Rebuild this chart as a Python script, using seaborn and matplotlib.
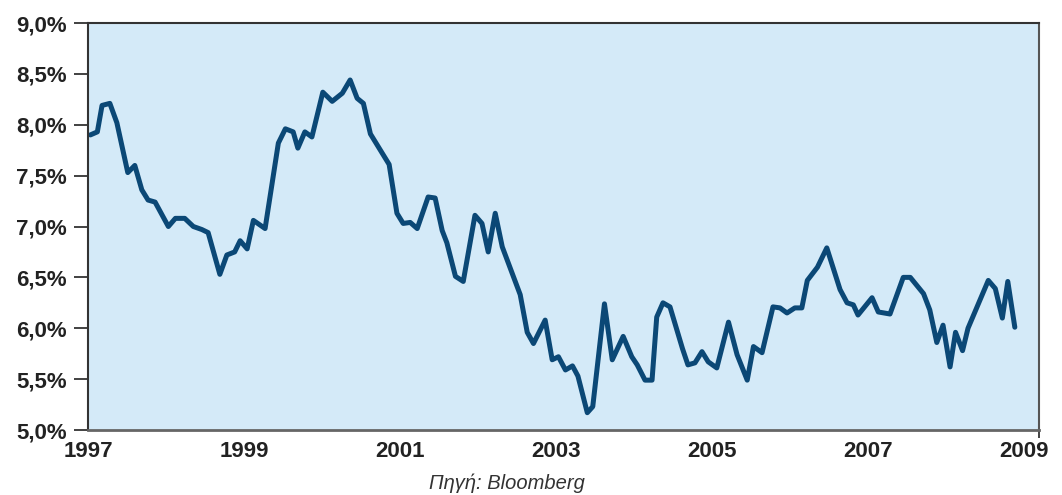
import matplotlib
matplotlib.use("Agg")
import matplotlib.pyplot as plt
import matplotlib.ticker as mticker
import numpy as np
import pandas as pd
import seaborn as sns

# Yield series (decimal year, percent)
dates = [
    1997.03, 1997.12, 1997.18, 1997.28, 1997.37, 1997.51, 1997.60, 1997.69, 1997.77, 1997.86,
    1998.03, 1998.12, 1998.24, 1998.35, 1998.46, 1998.54, 1998.69, 1998.78, 1998.88, 1998.95,
    1999.04, 1999.12, 1999.27, 1999.44, 1999.53, 1999.63, 1999.69, 1999.78, 1999.87,
    2000.01, 2000.13, 2000.26, 2000.36, 2000.45, 2000.53, 2000.62, 2000.86, 2000.96,
    2001.04, 2001.13, 2001.22, 2001.36, 2001.45, 2001.54, 2001.60, 2001.71, 2001.81, 2001.96,
    2002.05, 2002.13, 2002.22, 2002.31, 2002.54, 2002.63, 2002.71, 2002.86, 2002.95,
    2003.03, 2003.12, 2003.21, 2003.28, 2003.40, 2003.47, 2003.62, 2003.72, 2003.86, 2003.97,
    2004.04, 2004.14, 2004.23, 2004.29, 2004.37, 2004.46, 2004.62, 2004.69, 2004.78, 2004.87, 2004.95,
    2005.06, 2005.21, 2005.32, 2005.45, 2005.53, 2005.64, 2005.78, 2005.87, 2005.96,
    2006.06, 2006.15, 2006.22, 2006.35, 2006.47, 2006.64, 2006.73, 2006.81, 2006.87,
    2007.05, 2007.13, 2007.28, 2007.45, 2007.54, 2007.71, 2007.79, 2007.88, 2007.96,
    2008.05, 2008.12, 2008.21, 2008.28, 2008.54, 2008.63, 2008.72, 2008.79, 2008.88,
]
yields = [
    7.90, 7.93, 8.19, 8.21, 8.02, 7.53, 7.60, 7.36, 7.26, 7.24,
    7.00, 7.08, 7.08, 7.00, 6.97, 6.94, 6.53, 6.72, 6.75, 6.86,
    6.78, 7.06, 6.98, 7.82, 7.96, 7.93, 7.77, 7.93, 7.88,
    8.32, 8.23, 8.31, 8.44, 8.26, 8.21, 7.91, 7.61, 7.13,
    7.03, 7.04, 6.98, 7.29, 7.28, 6.96, 6.84, 6.51, 6.46, 7.11,
    7.03, 6.75, 7.13, 6.80, 6.33, 5.96, 5.85, 6.08, 5.69,
    5.72, 5.59, 5.63, 5.53, 5.17, 5.23, 6.24, 5.69, 5.92, 5.72,
    5.64, 5.49, 5.49, 6.11, 6.25, 6.21, 5.80, 5.64, 5.66, 5.77, 5.67,
    5.61, 6.06, 5.74, 5.49, 5.82, 5.76, 6.21, 6.20, 6.15,
    6.20, 6.20, 6.47, 6.60, 6.79, 6.38, 6.25, 6.23, 6.13,
    6.30, 6.16, 6.14, 6.50, 6.50, 6.34, 6.18, 5.86, 6.03,
    5.62, 5.96, 5.78, 6.00, 6.47, 6.39, 6.10, 6.46, 6.01,
]
year_ticks = [1997, 1999, 2001, 2003, 2005, 2007, 2009]
pct_ticks = [5.0, 5.5, 6.0, 6.5, 7.0, 7.5, 8.0, 8.5, 9.0]
source_note = "Πηγή: Bloomberg"

df = pd.DataFrame({"date": dates, "yield": yields})

sns.set_theme(style="white")
plt.rcParams["font.family"] = ["Liberation Sans", "DejaVu Sans"]

fig = plt.figure(figsize=(10.62, 4.95), dpi=100)
ax = fig.add_axes([88 / 1062, 1 - 430 / 495, (1039 - 88) / 1062, (430 - 23) / 495])
ax.set_facecolor("#d4eaf8")

sns.lineplot(data=df, x="date", y="yield", ax=ax, color="#0b4876",
             linewidth=3.6, sort=False, solid_joinstyle="round")

ax.set_xlim(1997, 2009.19)
ax.set_ylim(5.0, 9.0)
ax.set_xticks(year_ticks)
ax.set_xticklabels([str(y) for y in year_ticks])
ax.set_xticks([1997, 2009.19], minor=True)
ax.set_yticks(pct_ticks)
ax.yaxis.set_major_formatter(
    mticker.FuncFormatter(lambda v, _: f"{v:.1f}%".replace(".", ",")))
ax.set_xlabel("")
ax.set_ylabel("")

for lbl in ax.get_xticklabels() + ax.get_yticklabels():
    lbl.set_fontweight("bold")
    lbl.set_fontsize(16)
    lbl.set_color("#222222")

ax.tick_params(axis="y", which="major", left=True, length=10, width=1.3,
               color="#333333", pad=5)
ax.tick_params(axis="x", which="major", bottom=True, length=0, pad=8)
ax.tick_params(axis="x", which="minor", bottom=True, length=6, width=1.3,
               color="#333333")

for side in ["left", "top"]:
    ax.spines[side].set_color("#333333")
    ax.spines[side].set_linewidth(1.5)
ax.spines["bottom"].set_color("#666666")
ax.spines["bottom"].set_linewidth(2.0)
ax.spines["right"].set_color("#555555")
ax.spines["right"].set_linewidth(1.5)

fig.text(507 / 1062, 1 - 483 / 495, source_note, ha="center", va="center",
         fontsize=14.5, style="italic", color="#333333")

fig.savefig("out.png", dpi=100)
